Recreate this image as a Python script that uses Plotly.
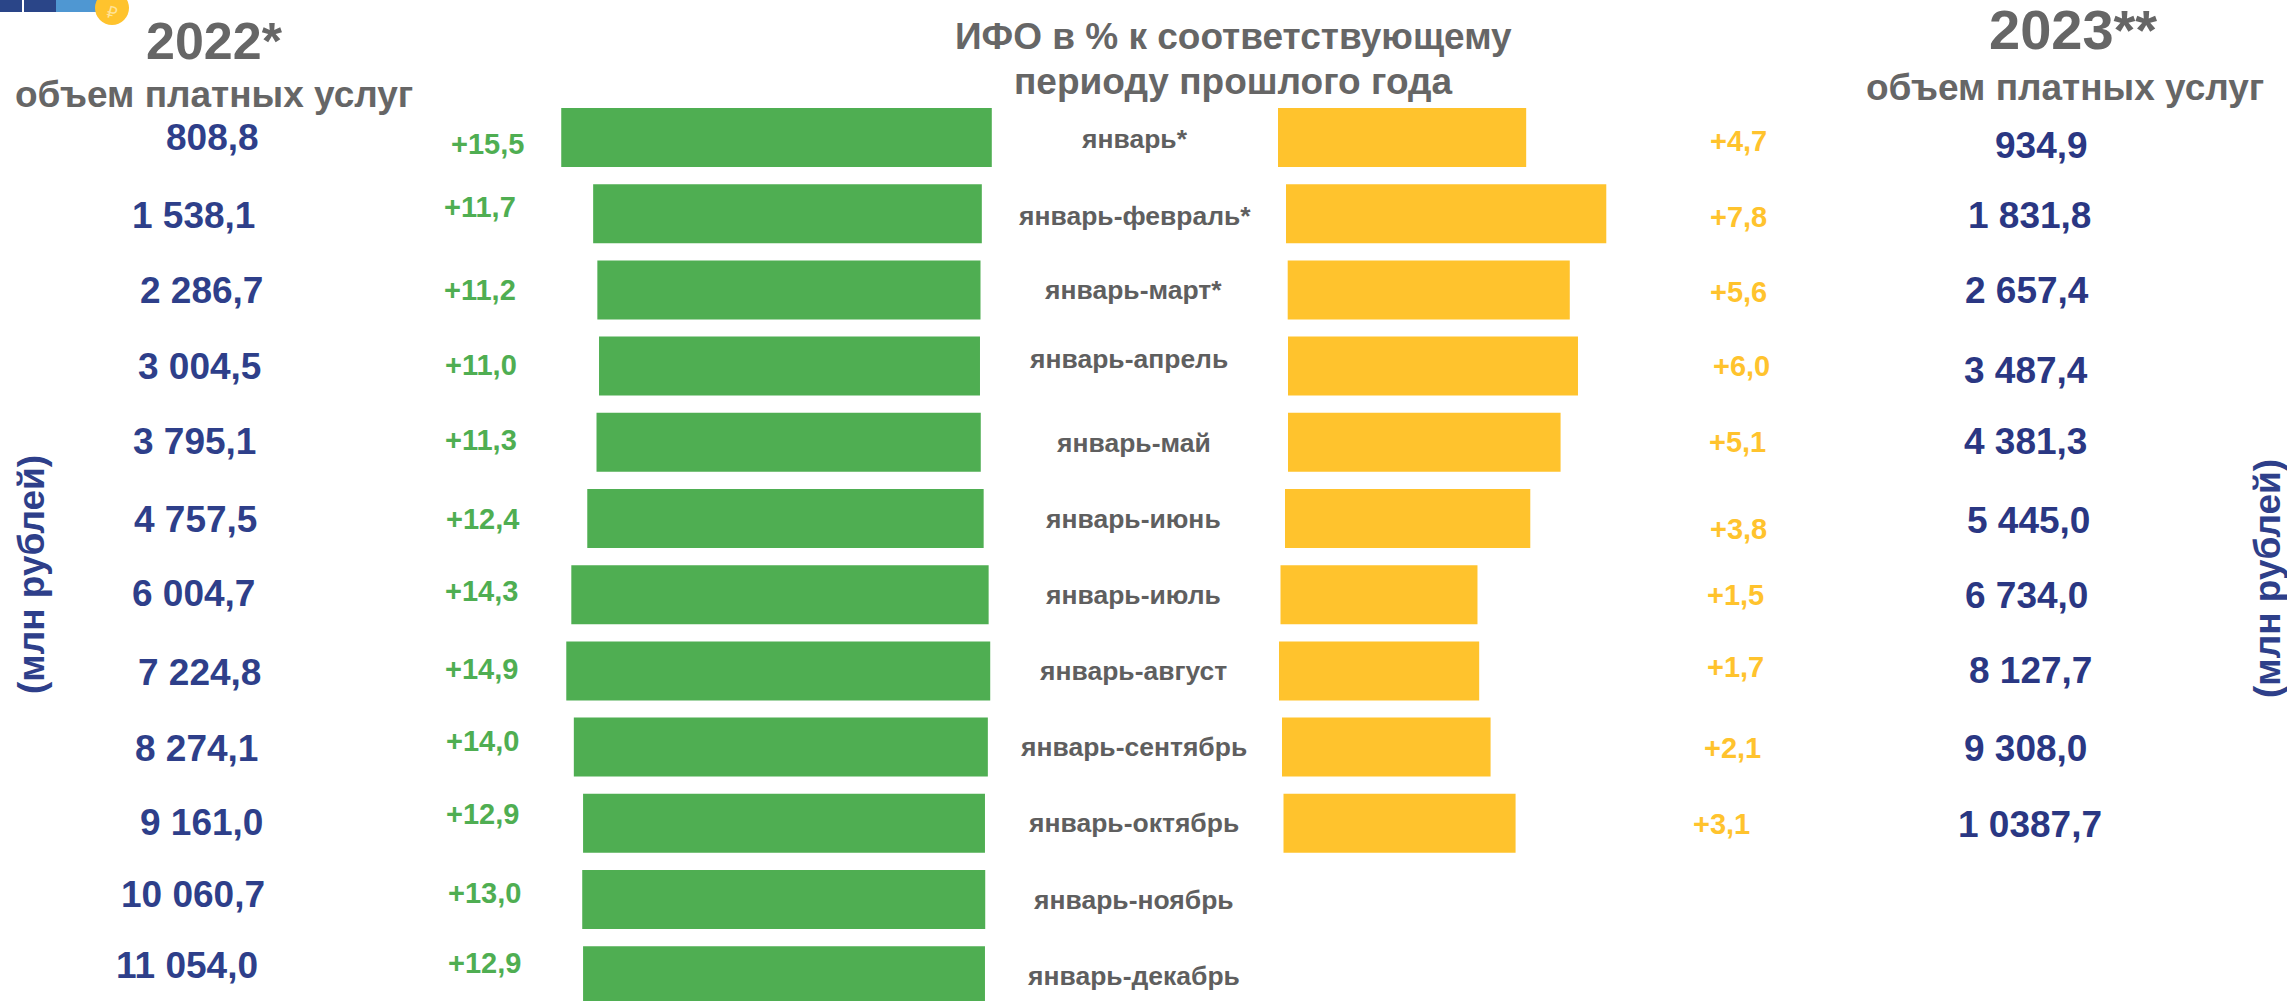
import plotly.graph_objects as go

# ---------- data ----------
months = ["январь*", "январь-февраль*", "январь-март*", "январь-апрель", "январь-май", "январь-июнь",
          "январь-июль", "январь-август", "январь-сентябрь", "январь-октябрь", "январь-ноябрь", "январь-декабрь"]
volume_2022 = ["808,8", "1 538,1", "2 286,7", "3 004,5", "3 795,1", "4 757,5", "6 004,7", "7 224,8",
               "8 274,1", "9 161,0", "10 060,7", "11 054,0"]
volume_2023 = ["934,9", "1 831,8", "2 657,4", "3 487,4", "4 381,3", "5 445,0", "6 734,0", "8 127,7",
               "9 308,0", "1 0387,7"]
ifo_2022 = [15.5, 11.7, 11.2, 11.0, 11.3, 12.4, 14.3, 14.9, 14.0, 12.9, 13.0, 12.9]
ifo_2023 = [4.7, 7.8, 5.6, 6.0, 5.1, 3.8, 1.5, 1.7, 2.1, 3.1]

# ---------- layout of the truncated, hand-placed bars (slide geometry) ----------
W, H = 2287, 1001
ROW_PITCH, ROW0_CENTER, BAR_H = 76.2, 137.5, 59.0
GREEN_PX, GREEN_OFFSET, GREEN_RIGHT, GREEN_SLOPE = 11.02, 23.57, 86.31, 0.238
YEL_PX, YEL_OFFSET = 21.0, 7.88
yel_left_px = [1278, 1286, 1287.7, 1288, 1288, 1285, 1280.5, 1279, 1282, 1283.5]
yel_trim_px = [-16, -9, -1, -1.5, 0, 0, 0, -1, -1, 1.5]

# label centres, px
S = 1.4585
xy = lambda xs, ys: [(x * S, y * S) for x, y in zip(xs, ys)]
pos_left = xy([146, 133, 138, 136.5, 133.5, 134, 133, 136.5, 135, 138, 132.5, 128.5],
              [94, 148, 199, 251, 303, 356, 407, 461, 513, 564, 613, 662])
pos_green = xy([334, 329, 329, 330, 330, 331, 330, 330, 331, 331, 332, 332],
               [99, 142, 199, 250, 302, 356, 405, 459, 508, 558, 612, 660])
pos_cat = xy([778, 778, 777, 774, 777, 777, 777, 777, 777, 777, 777, 777],
             [95, 148, 199, 246, 304, 356, 408, 460, 512, 564, 617, 669])
pos_yel = xy([1192, 1192, 1192, 1194, 1191, 1192, 1190, 1190, 1188, 1180],
             [97, 149, 200, 251, 303, 363, 408, 457, 513, 565])
pos_right = xy([1400, 1391.5, 1389.5, 1389, 1388.5, 1390.5, 1389.5, 1392, 1389, 1392],
               [100, 148, 199, 254, 303, 357, 408, 460, 513, 565])

GREEN, YELLOW, BLUE, GREY = "#4FAE52", "#FFC32D", "#2E3F8A", "#666666"
FONT = "Liberation Sans"

fig = go.Figure()
green_len = [v + GREEN_OFFSET for v in ifo_2022]
green_base = [GREEN_RIGHT + GREEN_SLOPE * v - l for v, l in zip(ifo_2022, green_len)]
fig.add_bar(y=months, x=green_len, base=green_base, orientation="h", width=BAR_H / ROW_PITCH,
            marker=dict(color=GREEN, line_width=0), xaxis="x", yaxis="y", showlegend=False,
            customdata=ifo_2022, hovertemplate="%{y}: +%{customdata}<extra>2022</extra>")
yel_len = [v + YEL_OFFSET + t / YEL_PX for v, t in zip(ifo_2023, yel_trim_px)]
yel_base = [p / YEL_PX for p in yel_left_px]
fig.add_bar(y=months[:len(ifo_2023)], x=yel_len, base=yel_base, orientation="h", width=BAR_H / ROW_PITCH,
            marker=dict(color=YELLOW, line_width=0), xaxis="x2", yaxis="y", showlegend=False,
            customdata=ifo_2023, hovertemplate="%{y}: +%{customdata}<extra>2023</extra>")


def label(text, cx, cy, size, color, angle=0, weight=700):
    fig.add_annotation(text=text, x=cx / W, y=1 - cy / H, xref="paper", yref="paper",
                       xanchor="center", yanchor="middle", showarrow=False, textangle=angle,
                       font=dict(family=FONT, size=size, color=color, weight=weight))


fmt = lambda v: "+" + f"{v:.1f}".replace(".", ",")
for t, (x, y) in zip(volume_2022, pos_left):
    label(t, x, y, 37, BLUE)
for v, (x, y) in zip(ifo_2022, pos_green):
    label(fmt(v), x, y, 29, GREEN)
for t, (x, y) in zip(months, pos_cat):
    label(t, x, y, 26.5, "#5F5F5F")
for v, (x, y) in zip(ifo_2023, pos_yel):
    label(fmt(v), x, y, 29, YELLOW)
for t, (x, y) in zip(volume_2023, pos_right):
    label(t, x, y, 37, "#2A3783")

label("2022*", 147 * S, 28 * S, 52, GREY)
label("объем платных услуг", 147 * S, 65 * S, 37, GREY)
label("ИФО в % к соответствующему", 846 * S, 25 * S, 37, GREY)
label("периоду прошлого года", 846 * S, 56 * S, 37, GREY)
label("2023**", 1421 * S, 20 * S, 56, GREY)
label("объем платных услуг", 1416 * S, 60 * S, 37, GREY)
label("(млн рублей)", 31, 575, 37, BLUE, angle=-90)
label("(млн рублей)", 2267, 579, 37, BLUE, angle=-90)


def rect(x0, x1, color):
    fig.add_shape(type="rect", xref="paper", yref="paper", x0=x0 / W, x1=x1 / W, y0=1, y1=1 - 12 / H,
                  fillcolor=color, line_width=0)


rect(0, 22, "#2A4588")
rect(24, 56, "#2A4588")
rect(56, 100, "#4F97D2")
fig.add_shape(type="circle", xref="paper", yref="paper", x0=95 / W, x1=129 / W, y0=1 + 9 / H, y1=1 - 25 / H,
              fillcolor=YELLOW, line_width=0)
label("₽", 112, 12, 17, "#FFE39A", angle=15, weight=400)

fig.update_layout(
    width=W, height=H, margin=dict(l=0, r=0, t=0, b=0), paper_bgcolor="white", plot_bgcolor="white",
    barmode="overlay", showlegend=False, font=dict(family=FONT),
    xaxis=dict(range=[0, W / GREEN_PX], visible=False, domain=[0, 1]),
    xaxis2=dict(range=[0, W / YEL_PX], visible=False, overlaying="x"),
    yaxis=dict(type="category", categoryorder="array", categoryarray=months, visible=False,
               range=[(H - ROW0_CENTER) / ROW_PITCH, -ROW0_CENTER / ROW_PITCH]),
)
fig.write_html("out.html", config={"displayModeBar": False},
               post_script="document.body.style.margin='0';document.body.style.overflow='hidden';")
